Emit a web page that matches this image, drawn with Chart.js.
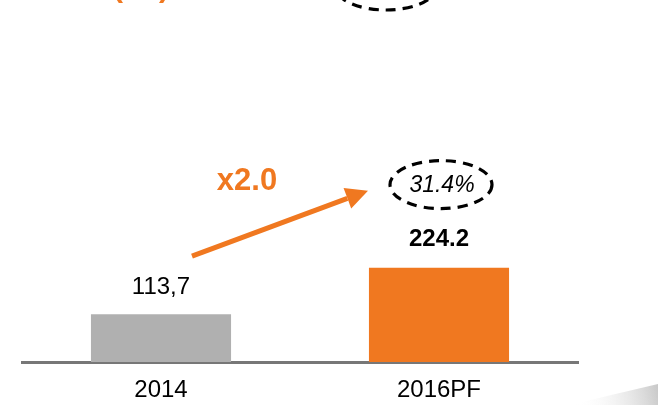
<!DOCTYPE html>
<html>
<head>
<meta charset="utf-8">
<script src="https://cdn.jsdelivr.net/npm/chart.js@4/dist/chart.umd.min.js"></script>
<style>
  html, body { margin: 0; padding: 0; background: #fff; }
  #wrap { width: 658px; height: 405px; position: relative; }
</style>
</head>
<body>
<div id="wrap"><canvas id="growth-chart" width="658" height="405"></canvas></div>
<script>
const categories = ['2014', '2016PF'];
const values = [113.7, 224.2];
const valueLabels = ['113,7', '224.2'];
const barColors = ['#B0B0B0', '#F07820'];
const multipleLabel = 'x2.0';
const marginLabel = '31.4%';

const ORANGE = '#F07820';
const FONT = '"Liberation Sans", Arial, sans-serif';

function dashedEllipse(ctx, cx, cy, rx, ry) {
    ctx.save();
    ctx.strokeStyle = '#000';
    ctx.lineWidth = 3.2;
    ctx.setLineDash([10, 7]);
    ctx.beginPath();
    ctx.ellipse(cx, cy, rx, ry, 0, 0, Math.PI * 2);
    ctx.stroke();
    ctx.restore();
}

const annotations = {
    id: 'annotations',
    afterDatasetsDraw(chart) {
        const ctx = chart.ctx;
        const bars = chart.getDatasetMeta(0).data;

        // value labels above bars
        ctx.save();
        ctx.textAlign = 'center';
        ctx.textBaseline = 'middle';
        ctx.fillStyle = '#000';
        ctx.font = '24px ' + FONT;
        ctx.fillText(valueLabels[0], bars[0].x, bars[0].y - 27);
        ctx.font = 'bold 24px ' + FONT;
        ctx.fillText(valueLabels[1], bars[1].x, bars[1].y - 28);

        // margin bubble
        const ex = bars[1].x + 2, ey = bars[1].y - 83;
        dashedEllipse(ctx, ex, ey, 51, 24);
        ctx.font = 'italic 23px ' + FONT;
        ctx.fillText(marginLabel, ex + 1, ey + 1);

        // growth arrow
        const x0 = bars[0].x + 31, y0 = bars[0].y - 58;
        const x1 = bars[1].x - 71, y1 = bars[1].y - 77;
        const ang = Math.atan2(y1 - y0, x1 - x0);
        const headLen = 22, headW = 11;
        const bx = x1 - headLen * Math.cos(ang), by = y1 - headLen * Math.sin(ang);
        ctx.strokeStyle = ORANGE;
        ctx.fillStyle = ORANGE;
        ctx.lineWidth = 5;
        ctx.beginPath();
        ctx.moveTo(x0, y0);
        ctx.lineTo(bx, by);
        ctx.stroke();
        ctx.beginPath();
        ctx.moveTo(x1, y1);
        ctx.lineTo(bx + headW * Math.sin(ang), by - headW * Math.cos(ang));
        ctx.lineTo(bx - headW * Math.sin(ang), by + headW * Math.cos(ang));
        ctx.closePath();
        ctx.fill();

        ctx.font = 'bold 31px ' + FONT;
        ctx.fillText(multipleLabel, 247, 181);

        // cut-off pieces from the slide above
        dashedEllipse(ctx, 386, -14, 51, 24);
        ctx.fillStyle = ORANGE;
        ctx.font = 'bold 30px ' + FONT;
        ctx.textBaseline = 'alphabetic';
        ctx.fillText('(', 118, -3);
        ctx.fillText(')', 164, -3);

        // grey swoosh bottom right
        const g = ctx.createLinearGradient(575, 405, 658, 385);
        g.addColorStop(0, 'rgba(255,255,255,0)');
        g.addColorStop(1, 'rgba(200,200,200,1)');
        ctx.fillStyle = g;
        ctx.beginPath();
        ctx.moveTo(570, 405);
        ctx.quadraticCurveTo(615, 394, 658, 384);
        ctx.lineTo(658, 405);
        ctx.closePath();
        ctx.fill();
        ctx.restore();
    }
};

new Chart(document.getElementById('growth-chart').getContext('2d'), {
    type: 'bar',
    data: {
        labels: categories,
        datasets: [{
            data: values,
            backgroundColor: barColors,
            borderWidth: 0,
            barPercentage: 0.504,
            categoryPercentage: 1
        }]
    },
    options: {
        responsive: false,
        animation: false,
        devicePixelRatio: 1,
        layout: { padding: { left: 22, right: 80, top: 0, bottom: 0 } },
        plugins: { legend: { display: false }, tooltip: { enabled: false } },
        scales: {
            y: { display: false, min: 0, max: 860 },
            x: {
                grid: { display: false, drawTicks: false },
                border: { display: true, color: '#777777', width: 3 },
                ticks: { color: '#000', font: { family: FONT, size: 24 }, padding: 14 },
                afterFit(scale) { scale.height = 43; }
            }
        }
    },
    plugins: [annotations]
});
</script>
</body>
</html>
